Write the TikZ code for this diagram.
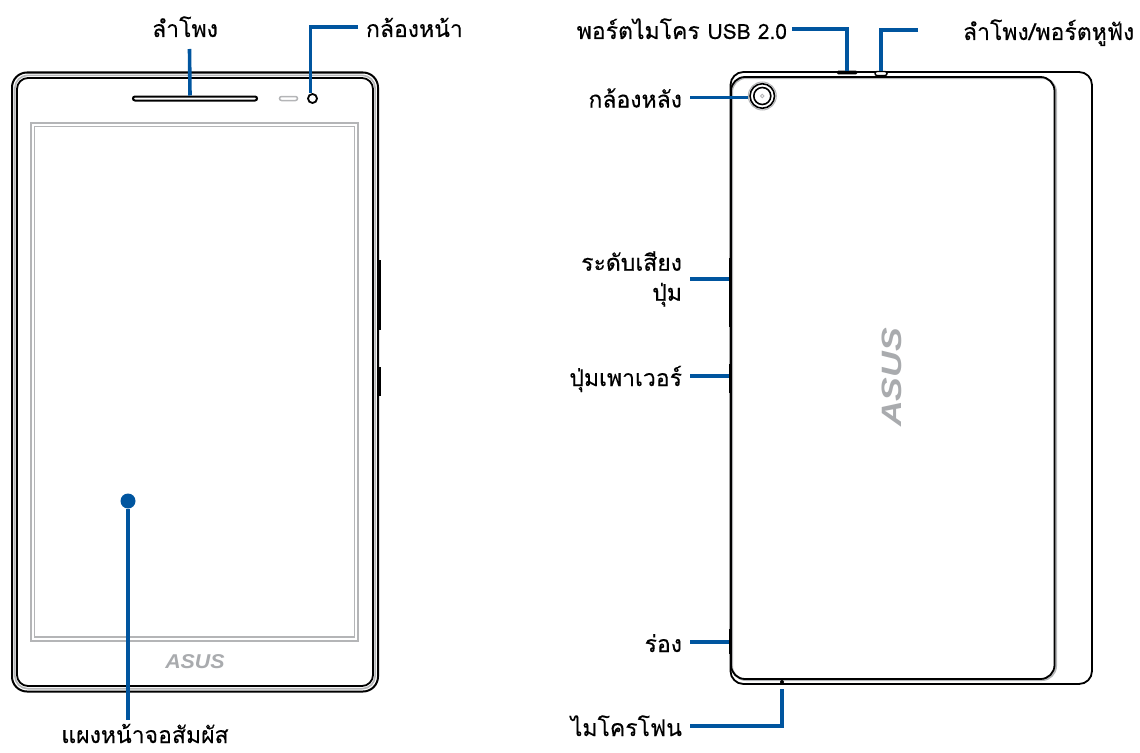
\documentclass[tikz,border=0pt]{standalone}
\usepackage{fontspec}
\newfontfamily\thaifont[Script=Thai, FakeBold=0.25]{Loma}
\newfontfamily\logofont{Liberation Sans}
\definecolor{leadblue}{HTML}{00559F}
\definecolor{logogrey}{HTML}{A9ABAE}
\definecolor{framegrey}{HTML}{B4B5B7}
\tikzset{
  lbl/.style={inner sep=0pt, outer sep=8pt, text height=20pt, text depth=0pt, font=\thaifont\fontsize{23}{27}\selectfont},
  lbltwo/.style={inner sep=0pt, outer sep=8pt, align=right, font=\thaifont\fontsize{23}{30}\selectfont},
  lead/.style={leadblue, line width=3.6pt},
  part/.style={inner sep=0pt, outer sep=0pt, fill=black},
  logo/.style={inner sep=0pt, logogrey, font=\logofont\bfseries\itshape\fontsize{20}{20}\selectfont}
}

\begin{document}
\begin{tikzpicture}[x=1pt, y=-1pt]
\useasboundingbox (0,0) rectangle (1140,752);

\draw[line width=2pt, rounded corners=15pt] (12,72.5) rectangle (378,691.5);
\draw[framegrey, line width=1.6pt, rounded corners=13pt] (14.8,75.3) rectangle (375.2,688.7);
\draw[line width=1.8pt, rounded corners=11pt] (17,78) rectangle (373,686);
\draw[framegrey, line width=1.3pt] (31,123) rectangle (358,641);
\draw[framegrey, line width=1.3pt] (34.5,126.5) rectangle (354.5,637);

\draw[line width=1.8pt, rounded corners=13pt] (730.5,72) rectangle (1092,684);
\draw[framegrey, line width=2pt, rounded corners=14pt] (732,78) rectangle (1056,680);
\draw[line width=1.8pt, rounded corners=14pt] (731,77) rectangle (1054.5,679);

\draw
(132,98.5) node[anchor=west, draw, line width=2pt, rounded corners=2pt, minimum width=124pt, minimum height=4pt, inner sep=0pt](spk){}
(288.5,98.5) node[draw=framegrey, line width=1.5pt, rounded corners=2pt, minimum width=18pt, minimum height=4pt, inner sep=0pt](sensor){}
(312.5,98.5) node[circle, draw, line width=1.8pt, fill=white, minimum size=9pt, inner sep=0pt](frontcam){}
(128,501) node[circle, fill=leadblue, minimum size=15pt, inner sep=0pt](touch){}
(379.2,295) node[part, minimum width=2.6pt, minimum height=70pt](frontvol){}
(379.2,381.5) node[part, minimum width=2.6pt, minimum height=29pt](frontpow){}
(195,662) node[logo, xscale=1.07](frontlogo){ASUS}
(892,377.5) node[logo, rotate=90, xscale=1.78, yscale=1.4](backlogo){ASUS}

(847,72.5) node[part, minimum width=21pt, minimum height=3.5pt, rounded corners=1.5pt](usb){}
(881,73.5) node[draw, line width=1.4pt, fill=white, rounded corners=2pt, minimum width=12pt, minimum height=4pt, inner sep=0pt](jack){}
(730,292.5) node[part, minimum width=3pt, minimum height=69pt](backvol){}
(730,378.5) node[part, minimum width=3pt, minimum height=29pt](backpow){}
(730,641.5) node[part, minimum width=3pt, minimum height=25pt](slot){}
(782,682) node[circle, part, minimum size=4pt](mic){}
(762.3,96) node[circle, draw=framegrey, line width=1pt, fill=white, minimum size=28pt, inner sep=0pt](rearcam){}
(762.3,96) node[circle, draw, line width=1.6pt, minimum size=24.5pt, inner sep=0pt](rearring){}
(762.3,96) node[circle, draw, line width=1.6pt, minimum size=17pt, inner sep=0pt](rearlens){}
(762.3,96) node[circle, draw=framegrey, line width=.8pt, minimum size=3.5pt, inner sep=0pt](reardot){}

(185,27) node[lbl, outer sep=12pt](spklbl){ลำโพง}
(358,27) node[lbl, anchor=west](frontcamlbl){กล้องหน้า}
(145,733) node[lbl, outer sep=0pt](touchlbl){แผงหน้าจอสัมผัส}
(792,29) node[lbl, outer sep=5pt, anchor=east](usblbl){พอร์ตไมโคร {\fontsize{21}{27}\selectfont USB 2.0}}
(958,30) node[lbl, outer sep=5pt, anchor=west](jacklbl){ลำโพง/พอร์ตหูฟัง}
(690,97.5) node[lbl, anchor=east](rearcamlbl){กล้องหลัง}
(690,279) node[lbltwo, anchor=east](vollbl){ระดับเสียง\\ปุ่ม}
(690,376) node[lbl, anchor=east](powlbl){ปุ่มเพาเวอร์}
(690,642) node[lbl, anchor=east](slotlbl){ร่อง}
(690,726) node[lbl, anchor=east](miclbl){ไมโครโฟน};

\draw[lead] ([xshift=4.5pt]spklbl.south) -- ([xshift=-5pt]spk.north);
\draw[lead] (frontcamlbl.west) -| ([xshift=-2pt]frontcam.north);
\draw[lead] (touch) -- ([yshift=3pt]touch |- touchlbl.north);
\draw[lead] (usblbl.east) -| (usb.north);
\draw[lead] (jacklbl.west) ++(-40pt,0) -| (jack.north);
\draw[lead] (rearcamlbl.east) -- (rearcamlbl -| rearcam.west);
\draw[lead] (vollbl.east) -- (vollbl -| backvol.west);
\draw[lead] (powlbl.east) -- (powlbl -| backpow.west);
\draw[lead] (slotlbl.east) -- (slotlbl -| slot.west);
\draw[lead] (miclbl.east) -| ([yshift=-5pt]mic.south);
\end{tikzpicture}
\end{document}
